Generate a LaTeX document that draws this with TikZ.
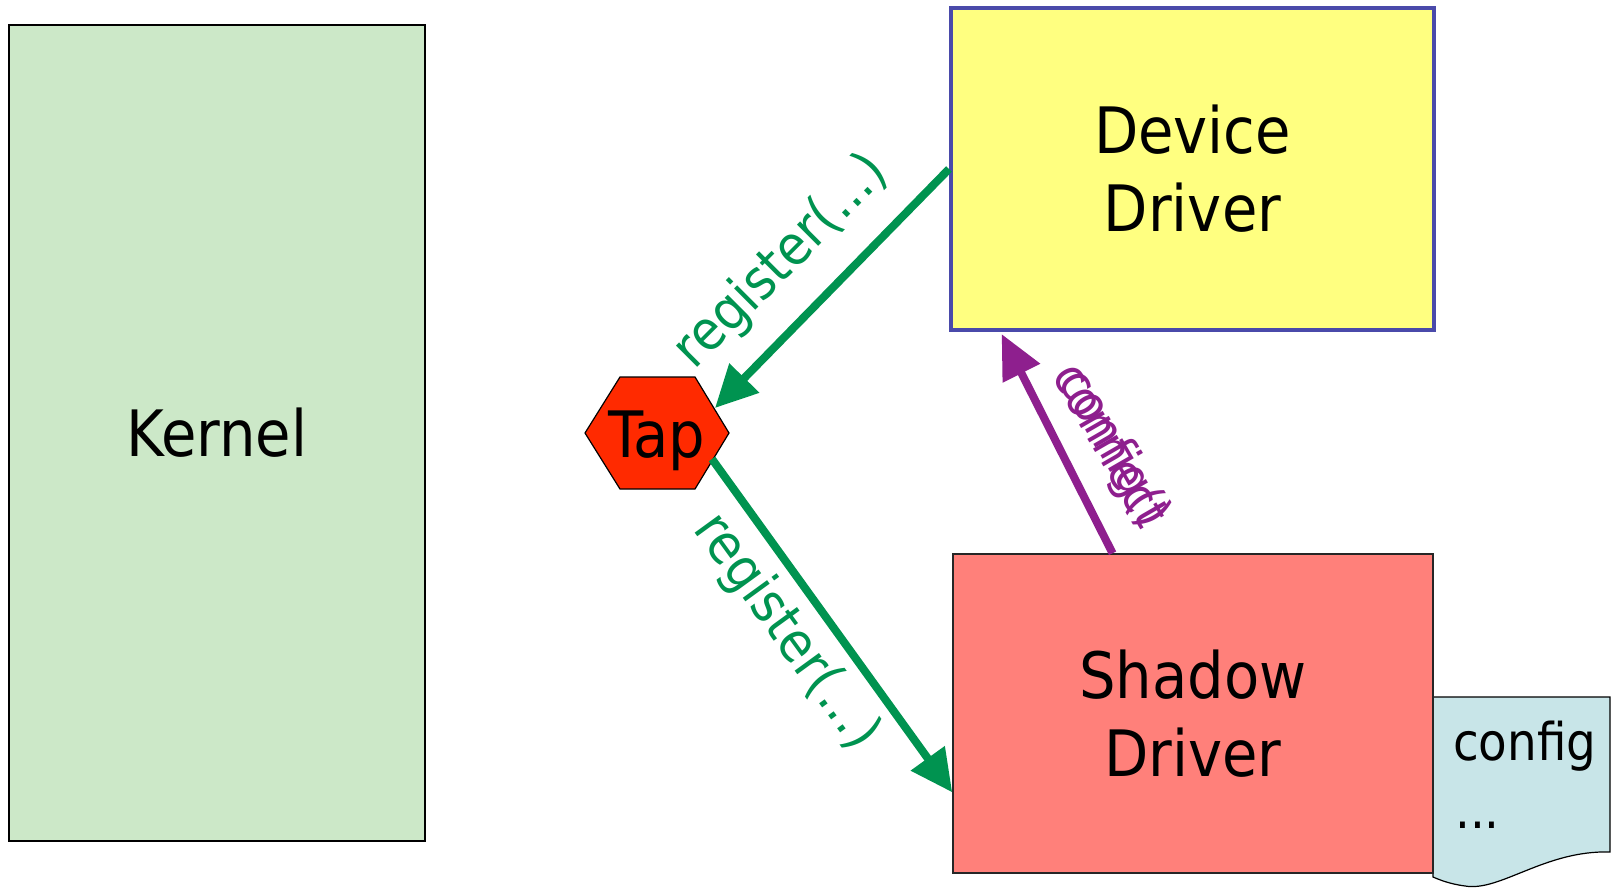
\documentclass[tikz,border=0pt]{standalone}
\usepackage{fontspec}
\setmainfont{DejaVu Sans Condensed}
\usetikzlibrary{arrows.meta,calc}
\definecolor{kfill}{HTML}{CCE8C8}
\definecolor{dfill}{HTML}{FFFF80}
\definecolor{dborder}{HTML}{4A4AAA}
\definecolor{sfill}{HTML}{FF807A}
\definecolor{docfill}{HTML}{C8E5E8}
\definecolor{tapfill}{HTML}{FF2A00}
\definecolor{ggreen}{HTML}{009350}
\definecolor{ppurple}{HTML}{8E1F8E}
\tikzset{
  bigtext/.style={font=\fontsize{64}{78}\selectfont, align=center},
  boxnode/.style={rectangle, inner sep=0pt},
  garrow/.style={draw=ggreen, line width=8pt, -{Triangle[length=42pt,width=40pt]}},
  parrow/.style={draw=ppurple, line width=8pt, -{Triangle[length=44pt,width=40pt]}},
  glabel/.style={text=ggreen, font=\fontsize{55}{60}\selectfont, inner sep=0pt},
  plabel/.style={text=ppurple, font=\fontsize{50}{55}\selectfont, inner sep=0pt},
  doctext/.style={font=\fontsize{52}{60}\selectfont, inner sep=0pt}
}
\begin{document}
\begin{tikzpicture}[x=1pt,y=-1pt]
\useasboundingbox (0,0) rectangle (1618,889);
% Kernel
\node[boxnode, bigtext, fill=kfill, draw=black, line width=1.2pt, minimum width=416pt, minimum height=816pt] (kernel) at (217,433) {Kernel};
% Device Driver
\node[boxnode, bigtext, fill=dfill, draw=dborder, line width=4pt, minimum width=483pt, minimum height=322pt] (dev) at (1192.5,169) {Device\\Driver};
% config document
\path[draw=black, line width=1.2pt, fill=docfill] (1433,697) -- (1610,697) -- (1610,852)
  .. controls (1545,850) and (1500,892) .. (1465,886)
  .. controls (1450,884) and (1440,880) .. (1433,877) -- cycle;
\node[doctext, anchor=base west] (doc1) at (1453,760) {config};
\node[doctext, anchor=base west] (doc2) at (1455,828) {...};
% Shadow Driver
\node[boxnode, bigtext, fill=sfill, draw=black!85, line width=1.5pt, minimum width=480pt, minimum height=319pt] (shadow) at (1193,713.5) {Shadow\\Driver};
% Tap hexagon
\path[draw=black, line width=1.2pt, fill=tapfill] (585,433) -- (620,377) -- (695,377) -- (729,433) -- (695,489) -- (620,489) -- cycle;
\node[bigtext, inner sep=0pt] (tap) at (657,441) {Tap};
\coordinate (t1) at (715,408);
\coordinate (t2) at (712,459);
\coordinate (s1) at ($(shadow.south west)!0.254!(shadow.north west)$);
\coordinate (s2) at ($(shadow.north west)!0.333!(shadow.north east)$);
\coordinate (d1) at ($(dev.south west)!0.108!(dev.south east)+(0,2)$);
% arrows
\draw[garrow] (dev.west) -- (t1);
\draw[garrow] (t2) -- (s1);
\draw[parrow] (s2) -- (d1);
% labels
\node[glabel, rotate=45] (l1) at (782,262) {register(...)};
\node[glabel, rotate=-54] (l2) at (786,632) {register(...)};
\node[plabel, rotate=-60] (l3) at (1111,445) {connect};
\node[plabel, rotate=-60] (l4) at (1113,449) {config()};
\end{tikzpicture}
\end{document}
